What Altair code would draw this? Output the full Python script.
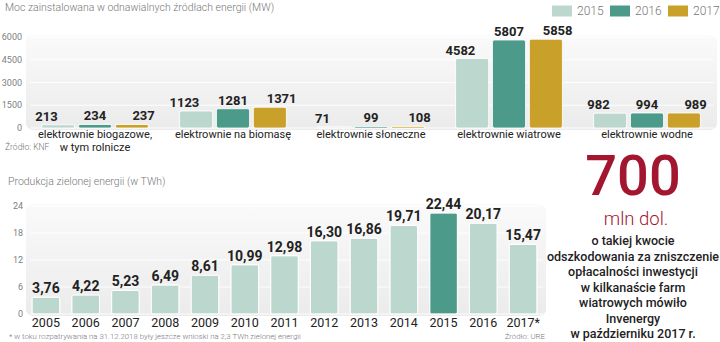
import altair as alt
import pandas as pd

# ---------------- data ----------------
groups = [
    "elektrownie biogazowe,\nw tym rolnicze",
    "elektrownie na biomasę",
    "elektrownie słoneczne",
    "elektrownie wiatrowe",
    "elektrownie wodne",
]
years = ["2015", "2016", "2017"]
mw_2015 = [213, 1123, 71, 4582, 982]
mw_2016 = [234, 1281, 99, 5807, 994]
mw_2017 = [237, 1371, 108, 5858, 989]
mw_ticks = [0, 1500, 3000, 4500, 6000]

prod_years = ["2005", "2006", "2007", "2008", "2009", "2010", "2011",
              "2012", "2013", "2014", "2015", "2016", "2017*"]
prod_twh = [3.76, 4.22, 5.23, 6.49, 8.61, 10.99, 12.98,
            16.30, 16.86, 19.71, 22.44, 20.17, 15.47]
twh_ticks = [0, 6, 12, 18, 24]

note_big = "700"
note_unit = "mln dol."
note_lines = [
    "o takiej kwocie",
    "odszkodowania za zniszczenie",
    "opłacalności inwestycji",
    "w kilkanaście farm",
    "wiatrowych mówiło",
    "Invenergy",
    "w październiku 2017 r.",
]

title_top = "Moc zainstalowana w odnawialnych źródłach energii (MW)"
title_bottom = "Produkcja zielonej energii (w TWh)"
source_top = "Źródło: KNF"
source_bottom = "Źródło: URE"
footnote = "* w toku rozpatrywania na 31.12.2018 były jeszcze wnioski na 2,3 TWh zielonej energii"

colors = ["#bcd8ce", "#4c9a8a", "#c9a12a"]
crimson = "#a3162f"
FONT = "Roboto"

# ---------------- tables ----------------
mw_rows = []
for g, a, b, c in zip(groups, mw_2015, mw_2016, mw_2017):
    for y, v in zip(years, [a, b, c]):
        mw_rows.append({"group": g, "year": y, "value": v})
mw_df = pd.DataFrame(mw_rows)
grp_df = pd.DataFrame({"group": groups})
mw_tick_df = pd.DataFrame({"t": mw_ticks})
leg_df = pd.DataFrame({"year": years})

prod_df = pd.DataFrame({"year": prod_years, "value": prod_twh})
prod_df["label"] = [f"{v:.2f}".replace(".", ",") for v in prod_twh]
prod_df["hl"] = ["yes" if y == "2015" else "no" for y in prod_years]
twh_tick_df = pd.DataFrame({"t": twh_ticks})
one = pd.DataFrame({"a": [0]})
notes_df = pd.DataFrame({"line": note_lines, "i": list(range(len(note_lines)))})

# ---------------- scales ----------------
x_top = alt.Scale(domain=groups, range=[26, 716], paddingInner=0, paddingOuter=0)
xo_top = alt.Scale(domain=years, paddingInner=0.1, paddingOuter=0.42)
y_top = alt.Scale(domain=[0, 6000], range=[128, 37])
col_top = alt.Scale(domain=years, range=colors)

x_bot = alt.Scale(domain=prod_years, range=[26, 543], paddingInner=0.3, paddingOuter=0.15)
y_bot = alt.Scale(domain=[0, 24], range=[314, 206])

grad = {
    "gradient": "linear", "x1": 0, "y1": 0, "x2": 0, "y2": 1,
    "stops": [{"offset": 0, "color": "#fafafa"}, {"offset": 1, "color": "#ebebeb"}],
}

layers = []

# ---- top panel ----
layers.append(alt.Chart(one).mark_rect(fill=grad, cornerRadius=7).encode(
    x=alt.value(26), x2=alt.value(717), y=alt.value(35), y2=alt.value(130)))
layers.append(alt.Chart(mw_tick_df).mark_rule(color="white", strokeWidth=1, opacity=0.9).encode(
    y=alt.Y("t:Q", scale=y_top, axis=None), x=alt.value(30), x2=alt.value(714)))
layers.append(alt.Chart(mw_tick_df).mark_text(align="right", baseline="middle", font=FONT,
                                              fontSize=9, color="#808080").encode(
    y=alt.Y("t:Q", scale=y_top, axis=None), x=alt.value(22), text=alt.Text("t:Q", format="d")))
layers.append(alt.Chart(mw_df).mark_bar(cornerRadius=2, stroke="white", strokeWidth=1.2,
                                        strokeOpacity=0.8).encode(
    x=alt.X("group:N", scale=x_top, axis=None, sort=groups),
    xOffset=alt.XOffset("year:N", scale=xo_top, sort=years),
    y=alt.Y("value:Q", scale=y_top, axis=None, stack=None),
    color=alt.Color("year:N", scale=col_top, legend=None)))
layers.append(alt.Chart(mw_df).mark_text(baseline="alphabetic", dy=-4, font=FONT, fontSize=13,
                                         fontWeight="bold", color="#222").encode(
    x=alt.X("group:N", scale=x_top, axis=None, sort=groups),
    xOffset=alt.XOffset("year:N", scale=xo_top, sort=years),
    y=alt.Y("value:Q", scale=y_top, axis=None, stack=None),
    text="value:Q"))
layers.append(alt.Chart(grp_df).mark_text(baseline="top", lineBreak="\n", lineHeight=12.5,
                                          font=FONT, fontSize=11, color="#222").encode(
    x=alt.X("group:N", scale=x_top, axis=None, sort=groups), y=alt.value(129), text="group:N"))

# legend
x_leg = alt.Scale(domain=years, range=[562, 678], padding=0)
layers.append(alt.Chart(leg_df).mark_point(
    shape="M-1,-0.55L1,-0.55L1,0.55L-1,0.55Z", size=400, filled=True, opacity=1,
    strokeWidth=0).encode(
    x=alt.X("year:N", scale=x_leg, axis=None), y=alt.value(11),
    color=alt.Color("year:N", scale=col_top, legend=None)))
layers.append(alt.Chart(leg_df).mark_text(align="left", baseline="middle", dx=15, font=FONT,
                                          fontSize=12, fontWeight=300, color="#777").encode(
    x=alt.X("year:N", scale=x_leg, axis=None), y=alt.value(11), text="year:N"))

# ---- bottom panel ----
layers.append(alt.Chart(one).mark_rect(fill=grad, cornerRadius=7).encode(
    x=alt.value(26), x2=alt.value(546), y=alt.value(204), y2=alt.value(316)))
layers.append(alt.Chart(twh_tick_df).mark_rule(color="white", strokeWidth=1, opacity=0.9).encode(
    y=alt.Y("t:Q", scale=y_bot, axis=None), x=alt.value(30), x2=alt.value(543)))
layers.append(alt.Chart(twh_tick_df).mark_text(align="right", baseline="middle", font=FONT,
                                               fontSize=9, color="#808080").encode(
    y=alt.Y("t:Q", scale=y_bot, axis=None), x=alt.value(23), text=alt.Text("t:Q", format="d")))
layers.append(alt.Chart(prod_df).mark_bar(cornerRadius=2, stroke="white", strokeWidth=1.2,
                                          strokeOpacity=0.8).encode(
    x=alt.X("year:N", scale=x_bot, axis=None, sort=prod_years),
    y=alt.Y("value:Q", scale=y_bot, axis=None),
    color=alt.Color("hl:N", scale=alt.Scale(domain=["no", "yes"], range=[colors[0], colors[1]]),
                    legend=None)))
layers.append(alt.Chart(prod_df).mark_text(baseline="alphabetic", dy=-4, font=FONT, fontSize=14,
                                           fontWeight="bold", color="#222").encode(
    x=alt.X("year:N", scale=x_bot, axis=None, sort=prod_years),
    y=alt.Y("value:Q", scale=y_bot, axis=None), text="label:N"))
layers.append(alt.Chart(prod_df).mark_text(baseline="middle", font=FONT, fontSize=12.5,
                                           color="#222").encode(
    x=alt.X("year:N", scale=x_bot, axis=None, sort=prod_years), y=alt.value(323), text="year:N"))

# ---- text annotations ----
def txt(s, x, y, size, color="#777", align="left", weight=300, baseline="middle"):
    return alt.Chart(pd.DataFrame({"s": [s]})).mark_text(
        align=align, baseline=baseline, font=FONT, fontSize=size, fontWeight=weight, color=color
    ).encode(x=alt.value(x), y=alt.value(y), text="s:N")

layers.append(txt(title_top, 5, 8, 10.5))
layers.append(txt(source_top, 5, 147, 8.5))
layers.append(txt(title_bottom, 8, 182, 10.5))
layers.append(txt(footnote, 9, 337, 7.8))
layers.append(txt(source_bottom, 545, 337, 7.8, align="right"))
layers.append(txt(note_big, 633, 195, 56, color=crimson, align="center", weight=500,
                  baseline="alphabetic"))
layers.append(txt(note_unit, 636, 225, 18.5, color=crimson, align="center", weight=300,
                  baseline="alphabetic"))
layers.append(alt.Chart(notes_df).mark_text(align="center", baseline="middle", font=FONT,
                                            fontSize=12.5, fontWeight=500, color="#222").encode(
    x=alt.value(633),
    y=alt.Y("i:Q", scale=alt.Scale(domain=[0, 6], range=[241, 334]), axis=None),
    text="line:N"))

chart = alt.layer(*layers).resolve_scale(
    x="independent", y="independent", color="independent", xOffset="independent"
).properties(
    width=720, height=342, autosize=alt.AutoSizeParams(type="none"), padding=0,
    background="white"
).configure_view(stroke=None)

chart.save("out.html", embed_options={"renderer": "svg", "actions": False})
